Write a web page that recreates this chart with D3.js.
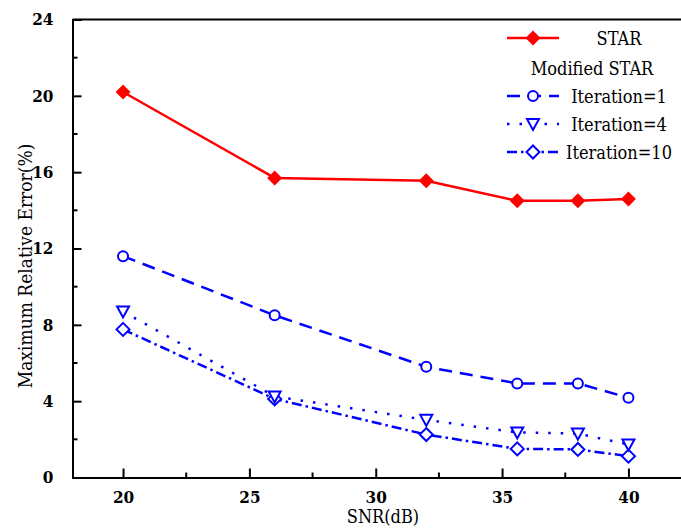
<!DOCTYPE html>
<html>
<head>
<meta charset="utf-8">
<script src="https://cdn.jsdelivr.net/npm/d3@7"></script>
<style>
  body { margin: 0; background: #fff; }
  svg { display: block; }
</style>
</head>
<body>
<div id="chart"></div>
<script>
// data
const snr = [20, 26, 32, 35.6, 38, 40];
const star = [20.2, 15.7, 15.55, 14.5, 14.5, 14.6];
const iter1 = [11.6, 8.5, 5.8, 4.93, 4.93, 4.18];
const iter4 = [8.7, 4.25, 3.02, 2.36, 2.3, 1.73];
const iter10 = [7.76, 4.12, 2.25, 1.5, 1.47, 1.12];
const xTicks = [20, 25, 30, 35, 40];
const yTicks = [0, 4, 8, 12, 16, 20, 24];

const series = [
    { name: "STAR", values: star, color: "#ff0000", dash: null, symbol: "diamondFill" },
    { name: "Iteration=1", values: iter1, color: "#0000ff", dash: "13,8", symbol: "circle" },
    { name: "Iteration=4", values: iter4, color: "#0000ff", dash: "2.5,10", symbol: "triangle" },
    { name: "Iteration=10", values: iter10, color: "#0000ff", dash: "10,4,2.5,4", symbol: "diamond" }
];

const width = 681, height = 528;
const plotLeft = 72.5, plotBottom = 477.5, plotTop = 19.5;
const serif = "'DejaVu Serif Condensed', 'DejaVu Serif', serif";

const svg = d3.select("#chart").append("svg")
    .attr("width", width)
    .attr("height", height)
    .attr("font-family", serif);

// x domain runs past the right edge of the picture
const x = d3.scaleLinear().domain([18, 43]).range([plotLeft, plotLeft + 25.27 * 25]);
const y = d3.scaleLinear().domain([0, 24]).range([plotBottom, plotTop]);

// frame (top line)
svg.append("line")
    .attr("x1", plotLeft).attr("x2", width + 5)
    .attr("y1", plotTop).attr("y2", plotTop)
    .attr("stroke", "#000").attr("stroke-width", 2);

// x axis
const xAxis = svg.append("g")
    .attr("transform", `translate(0,${plotBottom})`)
    .call(d3.axisBottom(x).tickValues(xTicks).tickSize(-9).tickPadding(13).tickFormat(d3.format("d")));
xAxis.attr("font-family", serif);
xAxis.select(".domain").attr("stroke-width", 2);
xAxis.selectAll(".tick line").attr("stroke-width", 2);
xAxis.selectAll(".tick text")
    .attr("font-size", 17).attr("font-weight", "bold");

const xMinor = d3.range(22.5, 43, 5);
svg.append("g").selectAll("line")
    .data(xMinor)
    .enter()
    .append("line")
    .attr("x1", d => x(d)).attr("x2", d => x(d))
    .attr("y1", plotBottom).attr("y2", plotBottom - 5)
    .attr("stroke", "#000").attr("stroke-width", 2);

// y axis
const yAxis = svg.append("g")
    .attr("transform", `translate(${plotLeft},0)`)
    .call(d3.axisLeft(y).tickValues(yTicks).tickSize(-9).tickPadding(19));
yAxis.attr("font-family", serif);
yAxis.select(".domain").attr("stroke-width", 2);
yAxis.selectAll(".tick line").attr("stroke-width", 2);
yAxis.selectAll(".tick text")
    .attr("font-size", 17).attr("font-weight", "bold");

const yMinor = d3.range(2, 24, 4);
svg.append("g").selectAll("line")
    .data(yMinor)
    .enter()
    .append("line")
    .attr("x1", plotLeft).attr("x2", plotLeft + 5)
    .attr("y1", d => y(d)).attr("y2", d => y(d))
    .attr("stroke", "#000").attr("stroke-width", 2);

// axis titles
svg.append("text")
    .attr("x", 383).attr("y", 523)
    .attr("text-anchor", "middle")
    .attr("font-size", 18)
    .text("SNR(dB)");

svg.append("text")
    .attr("transform", "translate(32,266) rotate(-90)")
    .attr("text-anchor", "middle")
    .attr("font-size", 19)
    .text("Maximum Relative Error(%)");

// symbols
function drawSymbol(g, kind, cx, cy, color) {
    if (kind === "diamondFill") {
        g.append("path")
            .attr("d", `M${cx},${cy - 7.5}L${cx + 7.5},${cy}L${cx},${cy + 7.5}L${cx - 7.5},${cy}Z`)
            .attr("fill", color);
    } else if (kind === "diamond") {
        g.append("path")
            .attr("d", `M${cx},${cy - 6.5}L${cx + 6.5},${cy}L${cx},${cy + 6.5}L${cx - 6.5},${cy}Z`)
            .attr("fill", "#fff").attr("stroke", color).attr("stroke-width", 2);
    } else if (kind === "circle") {
        g.append("circle")
            .attr("cx", cx).attr("cy", cy).attr("r", 5)
            .attr("fill", "#fff").attr("stroke", color).attr("stroke-width", 2);
    } else if (kind === "triangle") {
        g.append("path")
            .attr("d", `M${cx - 6},${cy - 5}L${cx + 6},${cy - 5}L${cx},${cy + 6}Z`)
            .attr("fill", "#fff").attr("stroke", color).attr("stroke-width", 2);
    }
}

const line = d3.line()
    .x(d => x(d[0]))
    .y(d => y(d[1]));

// lines first, then markers
series.slice().reverse().forEach(s => {
    const pts = snr.map((v, i) => [v, s.values[i]]);
    svg.append("path")
        .attr("d", line(pts))
        .attr("fill", "none")
        .attr("stroke", s.color)
        .attr("stroke-width", 2.5)
        .attr("stroke-dasharray", s.dash);
});
series.slice().reverse().forEach(s => {
    const g = svg.append("g");
    snr.forEach((v, i) => drawSymbol(g, s.symbol, x(v), y(s.values[i]), s.color));
});

// legend
const legend = svg.append("g");
const legendRows = [
    { s: series[0], y: 38 },
    { s: series[1], y: 96 },
    { s: series[2], y: 124 },
    { s: series[3], y: 152 }
];
legendRows.forEach(r => {
    legend.append("line")
        .attr("x1", 507).attr("x2", 559)
        .attr("y1", r.y).attr("y2", r.y)
        .attr("stroke", r.s.color)
        .attr("stroke-width", 2.5)
        .attr("stroke-dasharray", r.s.dash);
    drawSymbol(legend, r.s.symbol, 533, r.y, r.s.color);
    legend.append("text")
        .attr("x", 619).attr("y", r.y + 6.5)
        .attr("text-anchor", "middle")
        .attr("font-size", 18)
        .text(r.s.name);
});
legend.append("text")
    .attr("x", 592).attr("y", 74.5)
    .attr("text-anchor", "middle")
    .attr("font-size", 18)
    .text("Modified STAR");
</script>
</body>
</html>
